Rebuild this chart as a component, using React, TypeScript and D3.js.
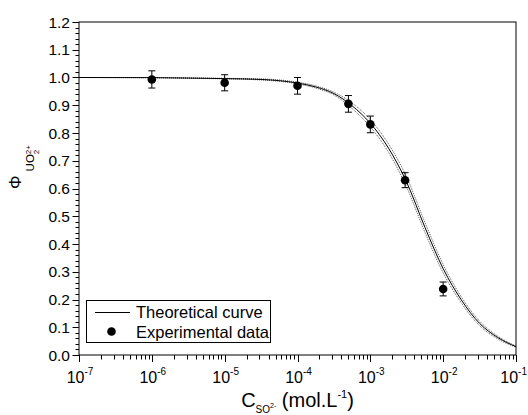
import React from "react";
import * as d3 from "d3";

const curveX = [1e-7, 1e-6, 3.16e-6, 1e-5, 3.16e-5, 1e-4, 1.78e-4, 3.16e-4, 5.62e-4, 1e-3, 1.78e-3, 3.16e-3, 5.62e-3, 1e-2, 1.78e-2, 3.16e-2, 5.62e-2, 1e-1];
const curveY = [1.0, 0.9995, 0.998, 0.996, 0.993, 0.98, 0.966, 0.942, 0.898, 0.835, 0.745, 0.622, 0.46, 0.311, 0.198, 0.114, 0.063, 0.03];
const bandUpper = [1.0, 1.0, 0.999, 0.997, 0.995, 0.983, 0.97, 0.947, 0.908, 0.848, 0.76, 0.64, 0.478, 0.326, 0.209, 0.122, 0.068, 0.032];
const bandLower = [1.0, 0.999, 0.997, 0.995, 0.991, 0.977, 0.962, 0.937, 0.888, 0.822, 0.73, 0.604, 0.442, 0.296, 0.187, 0.106, 0.058, 0.028];

const expX = [1e-6, 1e-5, 1e-4, 5e-4, 1e-3, 3e-3, 1e-2];
const expY = [0.993, 0.981, 0.97, 0.905, 0.831, 0.63, 0.238];
const expErr = [0.031, 0.029, 0.03, 0.03, 0.03, 0.027, 0.025];

const yTicks = [0, 0.1, 0.2, 0.3, 0.4, 0.5, 0.6, 0.7, 0.8, 0.9, 1.0, 1.1, 1.2];
const xExponents = [-7, -6, -5, -4, -3, -2, -1];
const legendLabels = ["Theoretical curve", "Experimental data"];

const FONT = "'Liberation Sans', Arial, Helvetica, sans-serif";

export default function App() {
  const L = 79, R = 516, T = 22, B = 355;
  const x = d3.scaleLog().domain([1e-7, 1e-1]).range([L, R]);
  const y = d3.scaleLinear().domain([0, 1.2]).range([B, T]);

  const line = d3
    .line<number>()
    .x((_, i) => x(curveX[i]))
    .y((d) => y(d))
    .curve(d3.curveMonotoneX);

  const yMinor = d3.range(0, 1.2001, 0.02);
  const xMinor: number[] = [];
  for (let e = -7; e < -1; e++) {
    for (let m = 2; m <= 9; m++) xMinor.push(m * Math.pow(10, e));
  }

  return (
    <svg
      width={528}
      height={415}
      style={{ position: "absolute", left: 0, top: 0, background: "#fff" }}
      fontFamily={FONT}
    >
      <rect x={0} y={0} width={528} height={415} fill="#fff" />
      {/* band */}
      <path d={line(bandUpper) || ""} fill="none" stroke="#555" strokeWidth={1} strokeDasharray="1,1" />
      <path d={line(bandLower) || ""} fill="none" stroke="#555" strokeWidth={1} strokeDasharray="1,1" />
      <path d={line(curveY) || ""} fill="none" stroke="#000" strokeWidth={1} />

      {/* experimental points */}
      {expX.map((cx, i) => {
        const px = x(cx);
        const y1 = y(expY[i] + expErr[i]);
        const y2 = y(expY[i] - expErr[i]);
        return (
          <g key={i}>
            <line x1={px} x2={px} y1={y1} y2={y2} stroke="#000" strokeWidth={1} />
            <line x1={px - 3.5} x2={px + 3.5} y1={y1} y2={y1} stroke="#000" strokeWidth={1} />
            <line x1={px - 3.5} x2={px + 3.5} y1={y2} y2={y2} stroke="#000" strokeWidth={1} />
            <circle cx={px} cy={y(expY[i])} r={4.3} fill="#000" />
          </g>
        );
      })}

      {/* frame */}
      <rect x={L} y={T} width={R - L} height={B - T} fill="none" stroke="#000" strokeWidth={1} />

      {/* y ticks */}
      {yMinor.map((v, i) => (
        <line key={"ym" + i} x1={L - 3.5} x2={L} y1={Math.round(y(v)) + 0.5} y2={Math.round(y(v)) + 0.5} stroke="#000" strokeWidth={1} />
      ))}
      {yTicks.map((v, i) => (
        <g key={"yt" + i}>
          <line x1={L - 6.5} x2={L} y1={Math.round(y(v)) + 0.5} y2={Math.round(y(v)) + 0.5} stroke="#000" strokeWidth={1} />
          <text x={L - 9} y={y(v)} dy="0.36em" textAnchor="end" fontSize={15.5} fill="#000">
            {v.toFixed(1)}
          </text>
        </g>
      ))}

      {/* x ticks */}
      {xMinor.map((v, i) => (
        <line key={"xm" + i} x1={Math.round(x(v)) + 0.5} x2={Math.round(x(v)) + 0.5} y1={B} y2={B + 4.5} stroke="#000" strokeWidth={1} />
      ))}
      {xExponents.map((e, i) => {
        const px = x(Math.pow(10, e));
        const last = i === xExponents.length - 1;
        return (
          <g key={"xt" + i}>
            <line x1={Math.round(px) + 0.5} x2={Math.round(px) + 0.5} y1={B} y2={B + 7} stroke="#000" strokeWidth={1} />
            <text x={last ? 527 : px + 1} y={383} textAnchor={last ? "end" : "middle"} fontSize={16} fill="#000">
              10
              <tspan fontSize={10} dy={-8}>{String(e)}</tspan>
            </text>
          </g>
        );
      })}

      {/* x title */}
      <text x={297.5} y={407} textAnchor="middle" fontSize={20} fill="#000">
        C
        <tspan fontSize={10} dy={6}>SO</tspan>
        <tspan fontSize={7} dy={-5}>2-</tspan>
        <tspan fontSize={20} dy={-1}> (mol.L</tspan>
        <tspan fontSize={11} dy={-9}>-1</tspan>
        <tspan fontSize={20} dy={9}>)</tspan>
      </text>

      {/* y title */}
      <text transform="translate(21,189) rotate(-90)" fontSize={17} fill="#000">
        Φ
        <tspan fontSize={11.5} dx={4} dy={13}>UO</tspan>
        <tspan fontSize={8} dy={5}>2</tspan>
        <tspan fontSize={8} dx={-4.5} dy={-8}>2+</tspan>
      </text>

      {/* legend */}
      <rect x={86.5} y={300.5} width={184} height={42} fill="#fff" stroke="#000" strokeWidth={1} />
      <line x1={95} x2={130} y1={312.5} y2={312.5} stroke="#000" strokeWidth={1} />
      <text x={136} y={318} fontSize={16.5} fill="#000">{legendLabels[0]}</text>
      <circle cx={111.5} cy={331.5} r={4.3} fill="#000" />
      <text x={136} y={337.5} fontSize={16.5} fill="#000">{legendLabels[1]}</text>
    </svg>
  );
}
